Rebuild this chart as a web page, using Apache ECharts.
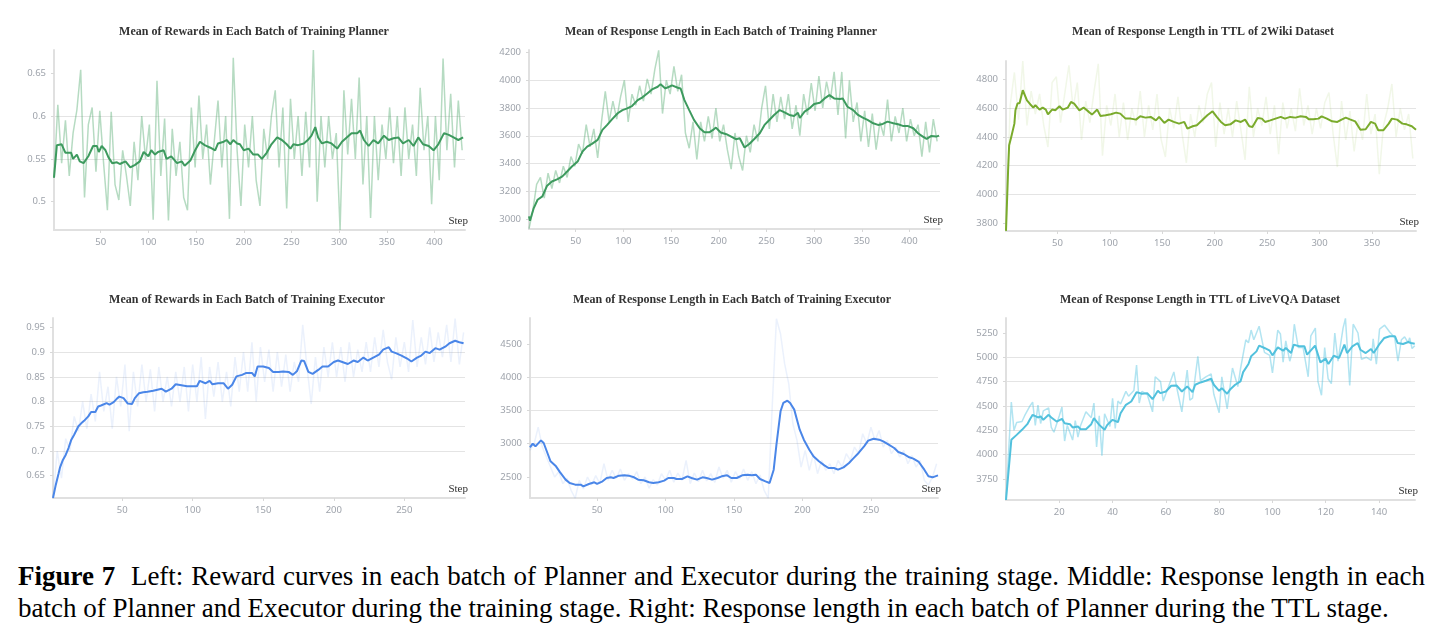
<!DOCTYPE html>
<html>
<head>
<meta charset="utf-8">
<script src="https://cdn.jsdelivr.net/npm/echarts@6/dist/echarts.min.js"></script>
<style>
body{margin:0;background:#fff;width:1442px;height:639px;overflow:hidden;}
#chart{position:absolute;left:0;top:0;width:1442px;height:540px;}
#caption{position:absolute;left:18px;top:560px;width:1407px;font-family:'Liberation Serif','Times New Roman',serif;font-size:27px;line-height:32px;color:#000;}
#caption div{white-space:nowrap;}
#caption .l1{text-align:justify;text-align-last:justify;}
</style>
</head>
<body>
<div id="chart"></div>
<div id="caption">
  <div class="l1"><b>Figure 7</b>&nbsp; Left: Reward curves in each batch of Planner and Executor during the training stage. Middle: Response length in each</div>
  <div>batch of Planner and Executor during the training stage. Right: Response length in each batch of Planner during the TTL stage.</div>
</div>
<script>
// ---- 数据: 原始值(浅色) 和 平滑值(深色) ----
// 左上: planner reward, 原始值每4步一个
var p1Raw = [
  0.528,0.613,0.545,0.595,0.53,0.58,0.607,0.654,0.505,0.59,0.61,0.535,
  0.606,0.545,0.49,0.605,0.52,0.502,0.56,0.53,0.495,0.57,0.525,0.6,
  0.55,0.59,0.479,0.641,0.53,0.597,0.478,0.585,0.53,0.57,0.505,0.49,
  0.61,0.54,0.624,0.55,0.59,0.52,0.57,0.618,0.54,0.6,0.48,0.668,
  0.56,0.495,0.59,0.54,0.6,0.525,0.495,0.585,0.55,0.6,0.63,0.54,
  0.61,0.492,0.62,0.55,0.6,0.53,0.605,0.54,0.677,0.5,0.6,0.54,
  0.6,0.55,0.58,0.467,0.63,0.555,0.62,0.55,0.645,0.52,0.6,0.481,
  0.6,0.525,0.59,0.55,0.61,0.545,0.6,0.53,0.61,0.55,0.59,0.53,
  0.633,0.56,0.6,0.497,0.6,0.525,0.667,0.56,0.626,0.54,0.618,0.56
]
var p1SmoothSteps = [1,4,9,13,19,21,25,28,32,37,42,46,48,51,55,58,62,67,70,76,81,86,91,95,100,103,107,110,116,119,124,130,135,138,144,149,154,159,165,170,173,179,182,186,189,193,196,200,205,210,215,219,224,229,235,240,245,249,252,257,263,268,271,275,278,282,287,292,298,303,308,313,319,322,326,331,336,341,347,352,357,362,367,373,378,383,388,394,399,404,410,415,420,425,430]
var p1Smooth = [0.528,0.566,0.567,0.557,0.557,0.55,0.555,0.547,0.545,0.553,0.565,0.565,0.558,0.565,0.56,0.552,0.545,0.546,0.544,0.547,0.54,0.543,0.547,0.558,0.553,0.56,0.555,0.558,0.56,0.55,0.553,0.545,0.547,0.542,0.548,0.56,0.57,0.566,0.563,0.56,0.568,0.57,0.572,0.567,0.572,0.568,0.567,0.56,0.562,0.555,0.555,0.55,0.557,0.567,0.575,0.572,0.567,0.562,0.567,0.566,0.568,0.573,0.577,0.587,0.575,0.568,0.57,0.568,0.562,0.57,0.575,0.58,0.58,0.583,0.572,0.565,0.572,0.568,0.577,0.572,0.574,0.575,0.568,0.572,0.565,0.575,0.567,0.565,0.56,0.567,0.58,0.578,0.575,0.572,0.575]

// 中上: planner response length
var p2Raw = [
  2930,3060,3250,3300,3150,3330,3220,3350,3260,3380,3300,3450,
  3380,3540,3470,3680,3520,3650,3440,3700,3920,3700,3850,3720,
  3880,4000,3700,3900,3820,3960,3850,4010,3900,4080,4215,3760,
  4000,3900,4100,3920,4040,3620,3510,3700,3430,3700,3560,3740,
  3580,3800,3560,3680,3500,3360,3620,3450,3350,3600,3480,3680,
  3560,3800,3960,3650,3900,3700,3880,3720,3900,3650,3820,3600,
  3900,3750,3980,3780,4030,3800,3990,3860,4060,3750,4060,3580,
  4000,3700,3840,3560,3780,3520,3760,3500,3700,3600,3860,3560,
  3740,3620,3800,3560,3720,3600,3680,3450,3700,3480,3720,3560
]
var p2SmoothSteps = [1,2,6,10,15,20,25,31,36,41,46,52,57,62,67,73,78,83,88,94,99,104,109,115,120,125,130,136,139,144,148,151,157,160,164,169,174,180,185,190,194,197,202,208,213,218,222,227,232,237,243,248,253,258,264,269,274,279,283,285,290,295,300,306,311,316,321,327,330,335,341,346,351,356,362,367,372,377,383,388,393,398,404,409,414,418,423,428,431]
var p2Smooth = [3019,2988,3079,3139,3163,3240,3270,3287,3307,3342,3378,3414,3486,3522,3541,3570,3642,3678,3718,3762,3785,3797,3814,3857,3877,3905,3934,3953,3972,3941,3953,3963,3946,3941,3857,3785,3714,3654,3625,3625,3642,3659,3623,3611,3594,3575,3582,3515,3541,3575,3618,3678,3714,3750,3785,3769,3750,3742,3766,3728,3774,3797,3829,3838,3869,3893,3869,3865,3869,3809,3785,3750,3730,3714,3690,3678,3685,3702,3690,3683,3671,3671,3654,3618,3594,3577,3599,3594,3601]

// 右上: 2Wiki TTL
var p3Raw = [
  3760,4620,4850,4520,4930,4480,4720,4560,4700,4480,4330,4780,
  4820,4500,4700,4900,4600,4780,4380,4650,4500,4720,4910,4270,
  4620,4480,4700,4400,4640,4380,4600,4480,4720,4400,4620,4450,
  4700,4380,4260,4600,4460,4680,4420,4220,4560,4400,4620,4500,
  4700,4780,4330,4640,4420,4600,4400,4650,4450,4240,4750,4400,
  4600,4480,4680,4420,4620,4280,4640,4460,4600,4440,4740,4480,
  4620,4420,4600,4460,4640,4710,4420,4190,4650,4380,4580,4300,
  4520,4380,4700,4420,4560,4140,4480,4600,4770,4400,4600,4450,
  4560,4250
]
var p3SmoothSteps = [1,3,4,6,9,10,12,14,17,18,21,25,27,29,33,36,39,41,45,48,52,55,60,63,66,71,75,80,83,88,91,96,101,106,110,115,120,125,129,134,139,144,147,152,156,161,166,171,174,179,183,188,193,198,199,202,206,210,215,220,225,229,233,236,241,245,248,253,258,263,267,272,277,282,287,290,294,299,302,307,312,317,321,325,329,334,339,344,349,353,356,361,366,369,374,379,383,388,392]
var p3Smooth = [3745,4167,4342,4400,4493,4586,4633,4637,4726,4714,4656,4621,4605,4621,4591,4605,4591,4558,4591,4586,4614,4591,4605,4644,4633,4586,4605,4575,4556,4591,4547,4551,4558,4570,4563,4528,4528,4521,4544,4535,4540,4516,4540,4498,4521,4505,4493,4505,4458,4475,4482,4516,4551,4579,4586,4540,4505,4482,4488,4516,4505,4521,4475,4470,4533,4528,4505,4516,4528,4540,4528,4540,4535,4544,4540,4523,4523,4528,4544,4528,4509,4505,4521,4535,4523,4509,4451,4454,4505,4493,4447,4447,4493,4528,4521,4493,4488,4475,4451]

// 左下: executor reward, 原始值每3步一个
var p4Raw = [
  0.605,0.70,0.645,0.725,0.70,0.77,0.74,0.80,0.745,0.815,0.76,0.86,
  0.78,0.83,0.745,0.85,0.79,0.875,0.74,0.86,0.79,0.875,0.80,0.865,
  0.78,0.87,0.80,0.85,0.79,0.86,0.80,0.87,0.78,0.875,0.80,0.89,
  0.765,0.87,0.81,0.88,0.80,0.86,0.79,0.89,0.82,0.90,0.82,0.92,
  0.80,0.91,0.84,0.905,0.82,0.90,0.83,0.895,0.82,0.88,0.84,0.955,
  0.87,0.795,0.89,0.82,0.91,0.85,0.92,0.85,0.91,0.84,0.92,0.85,
  0.905,0.86,0.92,0.86,0.93,0.87,0.945,0.88,0.845,0.93,0.87,0.92,
  0.86,0.965,0.87,0.93,0.875,0.95,0.88,0.94,0.89,0.955,0.88,0.968,
  0.875,0.94
]
var p4SmoothSteps = [1,3,5,6,8,9,10,12,14,16,19,21,23,26,28,31,33,35,39,41,44,46,48,51,54,57,59,62,65,68,72,75,78,81,85,88,92,96,99,103,105,109,112,114,118,122,125,128,131,135,138,142,144,146,150,154,157,161,164,168,171,174,177,179,182,185,189,192,196,200,203,207,210,214,217,221,224,228,232,235,239,241,244,248,252,255,259,262,265,268,272,275,279,282,286,289,292]
var p4Smooth = [0.605,0.632,0.655,0.667,0.682,0.678,0.692,0.706,0.723,0.733,0.75,0.756,0.761,0.77,0.779,0.779,0.79,0.792,0.797,0.794,0.799,0.805,0.81,0.807,0.796,0.795,0.807,0.817,0.819,0.82,0.822,0.824,0.826,0.82,0.826,0.835,0.833,0.831,0.831,0.831,0.842,0.837,0.842,0.835,0.837,0.837,0.826,0.834,0.851,0.854,0.858,0.858,0.851,0.871,0.871,0.868,0.86,0.86,0.861,0.86,0.854,0.862,0.883,0.882,0.86,0.856,0.864,0.871,0.871,0.88,0.883,0.879,0.876,0.883,0.88,0.889,0.883,0.889,0.895,0.905,0.91,0.901,0.898,0.893,0.887,0.881,0.889,0.893,0.901,0.898,0.908,0.905,0.911,0.918,0.923,0.92,0.918]

// 中下: executor response length
var p5Raw = [
  2900,3000,3250,2950,2800,2650,2500,2580,2400,2480,2300,2180,
  2450,2320,2500,2380,2520,2400,2700,2450,2600,2480,2620,2450,
  2550,2470,2580,2400,2500,2330,2460,2380,2550,2450,2600,2420,
  2560,2450,2750,2400,2560,2430,2600,2440,2550,2420,2650,2480,
  2600,2420,2580,2470,2620,2450,2580,2400,2530,2300,2180,3600,
  4880,4650,4200,3900,3300,3050,2650,2900,2600,2850,2550,2750,
  2600,2700,2550,2750,2650,2850,2750,2950,2850,3150,3000,3250,
  3050,3200,2950,3050,2850,2950,2800,2900,2700,2820,2650,2750,
  2450,2380,2500,2700
]
var p5SmoothSteps = [1,3,5,6,9,11,14,16,20,23,27,30,34,38,40,44,48,50,54,57,60,62,66,70,73,77,80,84,88,91,95,99,102,106,108,112,116,119,123,127,130,134,138,141,145,148,152,156,160,163,166,169,173,176,179,181,184,186,189,191,194,196,198,201,205,208,212,216,219,223,226,230,234,237,241,245,248,252,256,259,263,267,270,274,278,281,285,289,292,295,299]
var p5Smooth = [2946,3001,2961,2986,3051,3011,2846,2736,2660,2570,2460,2410,2385,2385,2360,2395,2420,2395,2435,2485,2495,2485,2520,2525,2520,2495,2460,2450,2420,2410,2420,2445,2485,2485,2470,2470,2510,2485,2460,2495,2485,2460,2485,2510,2525,2485,2485,2525,2535,2525,2535,2470,2435,2410,2610,2986,3488,3613,3648,3613,3513,3362,3212,3061,2911,2811,2736,2675,2635,2635,2610,2645,2711,2776,2861,2961,3046,3076,3061,3036,2986,2936,2876,2846,2796,2776,2726,2610,2510,2495,2525]

// 右下: LiveVQA TTL, 这里步数少, 原始值按读到的转折点记录
var p6RawSteps = [0,2,3,4,6,7,9,10,11,12,13,14,16,17,18,20,21,22,23,25,26,27,28,30,32,33,34,35,36,37,39,40,41,42,43,45,46,48,49,50,51,53,55,56,58,59,61,63,64,66,68,69,70,72,73,75,77,78,80,81,83,85,87,88,90,91,92,93,95,97,99,100,102,103,104,105,106.5,107.2,108.2,109.7,111.5,113.4,114.4,116.1,117.1,118.4,119.6,120.9,122.1,123.4,124.6,126.5,127.4,129,130.3,132.1,133.4,135.3,137.1,137.8,139,140.2,142.1,144,145.9,147.1,148.4,149.6,150.9,151.5,152.4,153.4]
var p6Raw = [3534,4540,4250,4330,4340,4400,4500,4540,4300,4510,4320,4450,4480,4280,4230,4400,4490,4140,4300,4150,4350,4180,4300,4440,4380,4530,4080,4400,3990,4420,4290,4580,4270,4550,4520,4650,4600,4660,4920,4530,4650,4620,4440,4800,4750,4550,4700,4850,4700,4440,4870,4560,4580,5010,4760,4800,4830,4620,4430,4800,4470,4890,4700,4880,5180,5150,5280,5180,5320,5050,5020,4840,5280,5240,4950,5170,4960,5030,5340,5100,5100,4800,5220,5300,4750,4610,5100,4780,4730,5250,4960,5300,5400,4710,5340,5250,4980,5000,4970,5190,4930,5290,5330,5260,5200,4960,5180,5210,5150,5200,5090,5120]
var p6SmoothSteps = [0,2,4,6,8,9,10,12,13,14,16,17,19,21,22,24,25,27,28,30,32,33,35,37,38,40,42,43,45,47,49,51,53,55,57,58,60,62,64,66,68,70,71,73,75,77,78,80,81,83,84,86,88,89,91,92,94,95,97,99,100,102,104,105,107,108,110,112,113,116,118,120,121,123,125,127,128,130,132,133,135,137,138,140,142,144,146,147,149,151,152,153.4]
var p6Smooth = [3534,4152,4203,4255,4313,4364,4409,4382,4392,4358,4409,4382,4340,4368,4323,4313,4279,4289,4261,4261,4313,4375,4306,4255,4306,4358,4334,4426,4512,4546,4642,4625,4632,4570,4656,4632,4649,4708,4711,4649,4701,4642,4718,4742,4759,4780,4718,4656,4684,4625,4666,4718,4752,4848,4931,5010,5061,5120,5096,5068,5020,5102,5068,5096,5044,5130,5113,5113,5027,5120,4948,4986,4931,5017,4993,5130,5044,5113,5147,5078,5044,5085,5044,5130,5199,5216,5216,5147,5137,5157,5147,5140]

// 刻度
var ticksStep430 = [50,100,150,200,250,300,350,400]
var ticksStep390 = [50,100,150,200,250,300,350]
var ticksStep295 = [50,100,150,200,250]
var ticksStep150 = [20,40,60,80,100,120,140]
var p1YTicks = [0.5,0.55,0.6,0.65]
var p2YTicks = [3000,3200,3400,3600,3800,4000,4200]
var p3YTicks = [3800,4000,4200,4400,4600,4800]
var p4YTicks = [0.65,0.7,0.75,0.8,0.85,0.9,0.95]
var p5YTicks = [2500,3000,3500,4000,4500]
var p6YTicks = [3750,4000,4250,4500,4750,5000,5250]

var titles = [
  'Mean of Rewards in Each Batch of Training Planner',
  'Mean of Response Length in Each Batch of Training Planner',
  'Mean of Response Length in TTL of 2Wiki Dataset',
  'Mean of Rewards in Each Batch of Training Executor',
  'Mean of Response Length in Each Batch of Training Executor',
  'Mean of Response Length in TTL of LiveVQA Dataset'
]

//等间隔采样的步数
function seq(start, gap, n) {
  var out = []
  for (var i = 0; i < n; i++) out.push(start + i * gap)
  return out
}
function pairs(xs, ys) {
  return ys.map(function (y, i) { return [xs[i], y] })
}

var panels = [
  {cx: 254, ty: 26, box: [54, 50, 411, 180], x: [1, 432], xTicks: ticksStep430, y: [0.467, 0.677], yTicks: p1YTicks,
    raw: pairs(seq(1, 4, p1Raw.length), p1Raw), smooth: pairs(p1SmoothSteps, p1Smooth), rawColor: 'rgba(80,170,110,0.42)', color: '#3d9a5e'},
  {cx: 721, ty: 26, box: [529, 50, 411, 179], x: [1, 432], xTicks: ticksStep430, y: [2928, 4218], yTicks: p2YTicks,
    raw: pairs(seq(1, 4, p2Raw.length), p2Raw), smooth: pairs(p2SmoothSteps, p2Smooth), rawColor: 'rgba(80,170,110,0.42)', color: '#3d9a5e'},
  {cx: 1203, ty: 26, box: [1006, 61, 410, 170], x: [1, 392], xTicks: ticksStep390, y: [3744, 4930], yTicks: p3YTicks,
    raw: pairs(seq(1, 4, p3Raw.length), p3Raw), smooth: pairs(p3SmoothSteps, p3Smooth), rawColor: 'rgba(150,195,80,0.13)', color: '#7aab2c'},
  {cx: 247, ty: 294, box: [53, 318, 412, 180], x: [1, 293], xTicks: ticksStep295, y: [0.605, 0.969], yTicks: p4YTicks,
    raw: pairs(seq(1, 3, p4Raw.length), p4Raw), smooth: pairs(p4SmoothSteps, p4Smooth), rawColor: 'rgba(90,140,230,0.12)', color: '#4a86e8'},
  {cx: 732, ty: 294, box: [530, 318, 408, 180], x: [1, 299], xTicks: ticksStep295, y: [2184, 4891], yTicks: p5YTicks,
    raw: pairs(seq(1, 3, p5Raw.length), p5Raw), smooth: pairs(p5SmoothSteps, p5Smooth), rawColor: 'rgba(90,140,230,0.12)', color: '#4a86e8'},
  {cx: 1200, ty: 294, box: [1006, 318, 409, 182], x: [0, 153.5], xTicks: ticksStep150, y: [3534, 5404], yTicks: p6YTicks,
    raw: pairs(p6RawSteps, p6Raw), smooth: pairs(p6SmoothSteps, p6Smooth), rawColor: 'rgba(85,195,225,0.45)', color: '#52c1dd'}
]

var labelStyle = {color: '#9ea3ab', fontSize: 9.5, fontFamily: 'Noto Sans', formatter: function (v) { return String(v) }}
var option = {animation: false, title: [], grid: [], xAxis: [], yAxis: [], series: []}

panels.forEach(function (p, i) {
  option.title.push({
    text: titles[i], left: p.cx, top: p.ty, textAlign: 'center', padding: 0,
    textStyle: {fontFamily: 'Liberation Serif', fontWeight: 'bold', fontSize: 12, color: '#333'}
  })
  option.grid.push({left: p.box[0], top: p.box[1], width: p.box[2], height: p.box[3]})
  option.xAxis.push({
    type: 'value', gridIndex: i, min: p.x[0], max: p.x[1],
    name: 'Step', nameLocation: 'end', nameGap: 3,
    nameTextStyle: {fontFamily: 'Liberation Serif', fontSize: 11, color: '#333', align: 'right', verticalAlign: 'bottom', padding: [0, 0, 3, 0]},
    axisLine: {lineStyle: {color: '#e0e0e0', width: 2}},
    axisTick: {show: true, length: 3, customValues: p.xTicks, lineStyle: {color: '#d8d8d8'}},
    axisLabel: Object.assign({customValues: p.xTicks, margin: 7}, labelStyle),
    splitLine: {show: false}
  })
  option.yAxis.push({
    type: 'value', gridIndex: i, min: p.y[0], max: p.y[1],
    axisLine: {show: true, lineStyle: {color: '#e0e0e0', width: 2}},
    axisTick: {show: true, length: 3, customValues: p.yTicks, lineStyle: {color: '#d8d8d8'}},
    axisLabel: Object.assign({customValues: p.yTicks, margin: 8}, labelStyle),
    splitLine: {show: true, showMinLine: false, showMaxLine: false, lineStyle: {color: '#e4e4e4', width: 1}}
  })
  option.series.push({
    type: 'line', xAxisIndex: i, yAxisIndex: i, data: p.raw, showSymbol: false, silent: true, z: 2,
    lineStyle: {color: p.rawColor, width: 1.5}
  })
  option.series.push({
    type: 'line', xAxisIndex: i, yAxisIndex: i, data: p.smooth, showSymbol: false, silent: true, z: 3,
    lineStyle: {color: p.color, width: 2}
  })
})

echarts.init(document.getElementById('chart')).setOption(option)
</script>
</body>
</html>
